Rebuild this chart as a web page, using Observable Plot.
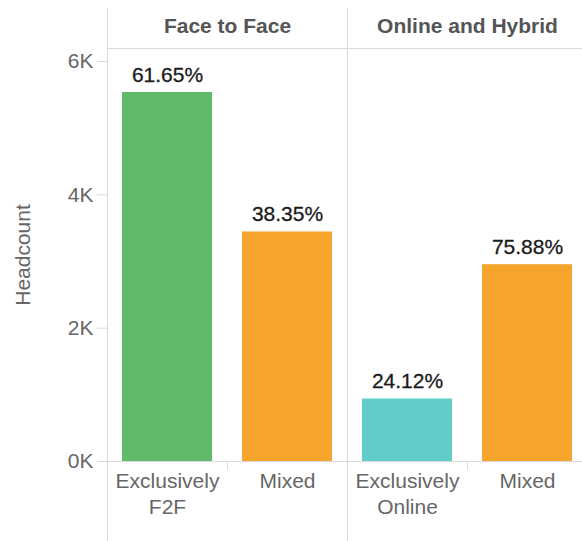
<!DOCTYPE html>
<html><head><meta charset="utf-8">
<script src="https://cdn.jsdelivr.net/npm/d3@7"></script>
<script src="https://cdn.jsdelivr.net/npm/@observablehq/plot@0.6"></script>
<style>html,body{margin:0;padding:0;background:#fff;overflow:hidden}</style>
</head><body><div id="chart"></div>
<script>
// ---- data ----
const groups = ["Face to Face", "Face to Face", "Online and Hybrid", "Online and Hybrid"];
const categories = ["Exclusively F2F", "Mixed", "Exclusively Online", "Mixed"];
const headcount = [5535, 3443, 938, 2952];
const shares = ["61.65%", "38.35%", "24.12%", "75.88%"];
const yTicks = [0, 2000, 4000, 6000];
const colorKeys = ["Exclusively F2F", "Mixed", "Exclusively Online"];
const colorRange = ["#5fba69", "#f5a52c", "#62ccc9"];

// ---- layout ----
const W = 582, H = 541, mTop = 48, mBottom = 80, mLeft = 107, mRight = -5;
const lineColor = "#d9d9d9";
const FONT = 21;

const rows = categories.map((c, i) => ({
  key: groups[i] + "|" + c, group: groups[i], category: c, value: headcount[i], share: shares[i]
}));
const keys = rows.map(d => d.key);
const catOf = Object.fromEntries(rows.map(d => [d.key, d.category]));
const starts = rows.filter((d, i) => i === 0 || groups[i - 1] !== d.group);
const inner = rows.filter((d, i) => i > 0 && groups[i - 1] === d.group);

const plot = Plot.plot({
  width: W, height: H,
  marginTop: mTop, marginBottom: mBottom, marginLeft: mLeft, marginRight: mRight,
  style: {fontFamily: "'Liberation Sans', Arial, sans-serif", fontSize: FONT + "px", background: "#fff", overflow: "hidden"},
  fx: {domain: keys, padding: 0},
  y: {domain: [0, 6195]},
  color: {domain: colorKeys, range: colorRange},
  marks: [
    Plot.frame({anchor: "top", stroke: lineColor, strokeOpacity: 1}),
    ...starts.map(d => Plot.frame({anchor: "left", stroke: lineColor, strokeOpacity: 1, fx: [d.key], insetTop: -(mTop - 8), insetBottom: -mBottom})),
    ...inner.map(d => Plot.frame({anchor: "left", stroke: lineColor, strokeOpacity: 1, fx: [d.key], insetTop: H - mTop - mBottom, insetBottom: -7})),
    Plot.ruleY([0], {stroke: lineColor, strokeOpacity: 1}),
    Plot.barY(rows, {fx: "key", y: "value", fill: "category", insetLeft: 15, insetRight: 15}),
    Plot.text(rows, {fx: "key", y: "value", text: "share", dy: -11, lineAnchor: "bottom", fill: "#1a1a1a", fontSize: FONT, stroke: "#1a1a1a", strokeWidth: 0.3}),
    Plot.text(starts, {fx: "key", text: "group", frameAnchor: "top-right", textAnchor: "middle", lineAnchor: "middle", dy: -22, fontWeight: "bold", fill: "#555", fontSize: FONT}),
    Plot.axisFx({anchor: "bottom", tickSize: 0, tickPadding: 9, tickFormat: k => catOf[k].replace(" ", "\n"), lineHeight: 1.2, fill: "#666", fontSize: FONT, label: null}),
    Plot.axisY({ticks: yTicks, tickFormat: d => d / 1000 + "K", tickSize: 10, tickPadding: 4, stroke: lineColor, strokeOpacity: 1, fill: "#666", fontSize: FONT, label: "Headcount", labelAnchor: "center", labelOffset: 92, labelArrow: "none"})
  ]
});
document.getElementById("chart").appendChild(plot);
</script>
</body></html>
